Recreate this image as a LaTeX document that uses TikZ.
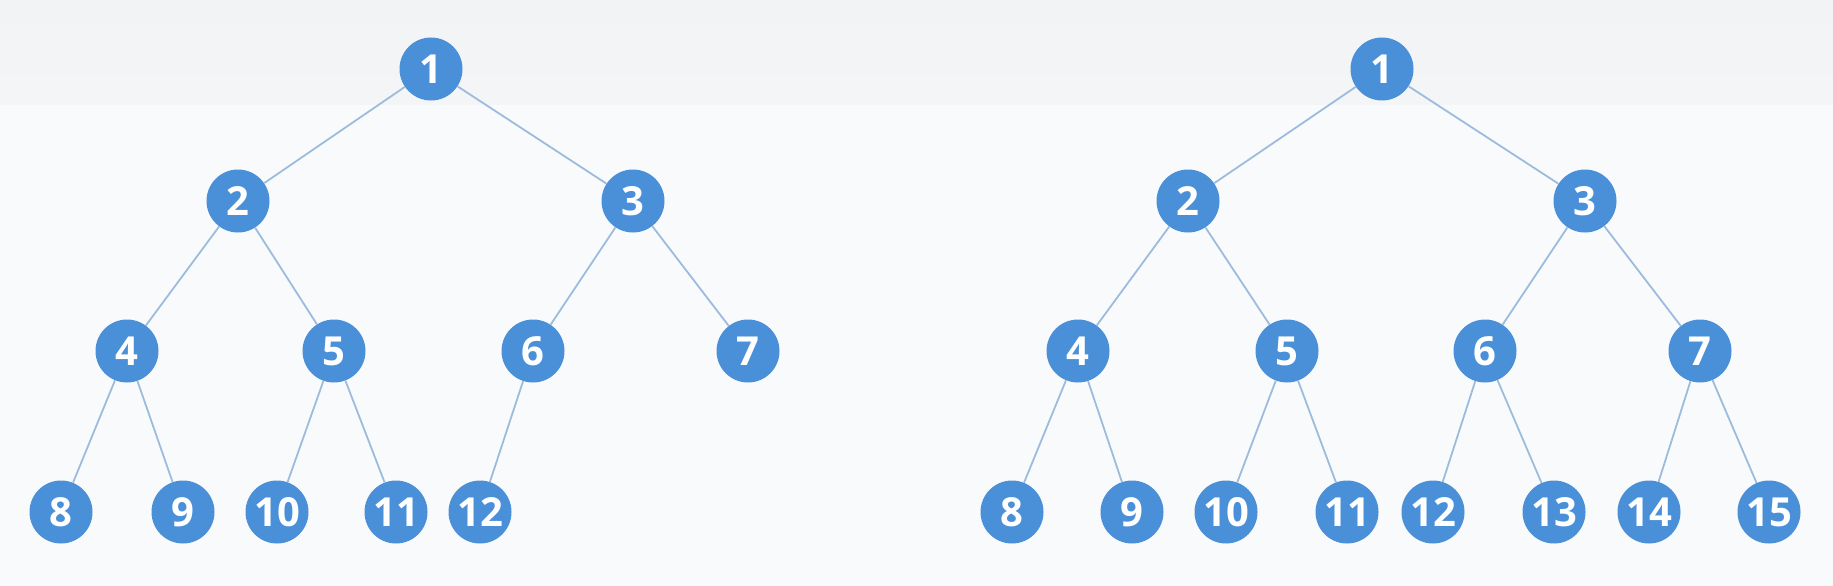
\documentclass[tikz,border=0pt]{standalone}
\usepackage{fontspec}
\setmainfont{Open Sans}
\newcommand{\nodefont}{\fontsize{40pt}{44pt}\selectfont\bfseries}
\definecolor{nodeblue}{HTML}{4A90D9}
\definecolor{edgeblue}{HTML}{9DBCDD}
\definecolor{bgtop}{HTML}{F2F3F5}
\definecolor{bgbot}{HTML}{F9FAFC}
\tikzset{
  tn/.style={circle, fill=nodeblue, draw=none, minimum size=63pt, inner sep=0pt,
    text=white, font=\nodefont},
  tedge/.style={draw=edgeblue, line width=1.8pt}
}
\begin{document}
\begin{tikzpicture}[x=1pt,y=-1pt]
\useasboundingbox (0,0) rectangle (1833,586);
\fill[bgbot] (0,0) rectangle (1833,586);
\shade[top color=bgtop, bottom color=bgtop!70!bgbot] (0,0) rectangle (1833,104);
% left tree
\node[tn] (a1) at (431,69) {1};
\node[tn] (a2) at (238,201) {2};
\node[tn] (a3) at (633,201) {3};
\node[tn] (a4) at (127,351) {4};
\node[tn] (a5) at (334,351) {5};
\node[tn] (a6) at (533,351) {6};
\node[tn] (a7) at (748,351) {7};
\node[tn] (a8) at (61,512) {8};
\node[tn] (a9) at (183,512) {9};
\node[tn] (a10) at (277,512) {10};
\node[tn] (a11) at (396,512) {11};
\node[tn] (a12) at (480,512) {12};
% right tree
\node[tn] (b1) at (1382,69) {1};
\node[tn] (b2) at (1188,201) {2};
\node[tn] (b3) at (1585,201) {3};
\node[tn] (b4) at (1078,351) {4};
\node[tn] (b5) at (1287,351) {5};
\node[tn] (b6) at (1485,351) {6};
\node[tn] (b7) at (1700,351) {7};
\node[tn] (b8) at (1012,512) {8};
\node[tn] (b9) at (1132,512) {9};
\node[tn] (b10) at (1226,512) {10};
\node[tn] (b11) at (1347,512) {11};
\node[tn] (b12) at (1433,512) {12};
\node[tn] (b13) at (1554,512) {13};
\node[tn] (b14) at (1649,512) {14};
\node[tn] (b15) at (1769,512) {15};
% edges
\foreach \p/\c in {1/2,1/3,2/4,2/5,3/6,3/7,4/8,4/9,5/10,5/11,6/12}
  \draw[tedge] (a\p) -- (a\c);
\foreach \p/\c in {1/2,1/3,2/4,2/5,3/6,3/7,4/8,4/9,5/10,5/11,6/12,6/13,7/14,7/15}
  \draw[tedge] (b\p) -- (b\c);
\end{tikzpicture}
\end{document}
